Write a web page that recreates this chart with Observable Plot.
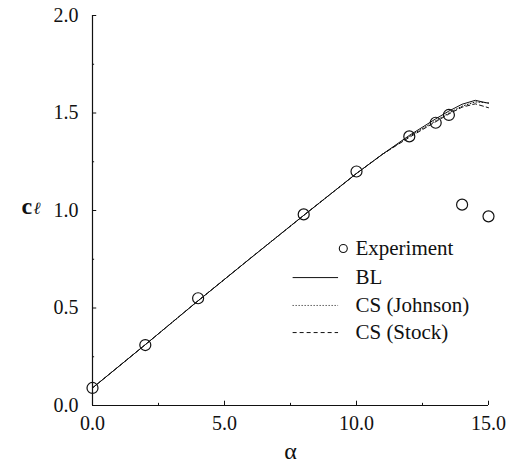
<!DOCTYPE html>
<html><head><meta charset="utf-8">
<script src="https://cdn.jsdelivr.net/npm/d3@7"></script>
<script src="https://cdn.jsdelivr.net/npm/@observablehq/plot@0.6"></script>
<style>
body{margin:0;background:#fff}
</style>
</head><body><div id="chart"></div>
<script>
// Experiment data
const expAlpha = [0, 2, 4, 8, 10, 12, 13, 13.5, 14, 15];
const expCl    = [0.09, 0.31, 0.55, 0.98, 1.20, 1.38, 1.45, 1.49, 1.03, 0.97];
// Computed curves
const curveAlpha = [0, 2, 4, 6, 8, 10, 11, 12, 13, 13.5, 14, 14.5, 15];
const clBL       = [0.09, 0.312, 0.537, 0.757, 0.975, 1.19, 1.29, 1.385, 1.47, 1.51, 1.545, 1.565, 1.55];
const clJohnson  = [0.09, 0.312, 0.537, 0.757, 0.975, 1.19, 1.29, 1.38, 1.46, 1.50, 1.535, 1.557, 1.552];
const clStock    = [0.09, 0.312, 0.537, 0.757, 0.975, 1.19, 1.29, 1.375, 1.455, 1.495, 1.53, 1.547, 1.527];
// Ticks
const xTicks = [0, 5, 10, 15];
const xMinor = [2.5, 7.5, 12.5];
const yTicks = [0, 0.5, 1.0, 1.5, 2.0];
const yMinor = [0.25, 0.75, 1.25, 1.75];
const legendLabels = ["Experiment", "BL", "CS (Johnson)", "CS (Stock)"];

const experiment = expAlpha.map((a, i) => ({alpha: a, cl: expCl[i]}));
const seriesList = [
  {name: "BL", values: clBL, dash: null},
  {name: "CS (Johnson)", values: clJohnson, dash: "1,2"},
  {name: "CS (Stock)", values: clStock, dash: "4,3"}
];
const curves = seriesList.map(s => curveAlpha.map((a, i) => ({alpha: a, cl: s.values[i]})));

const ink = "#111";
const serif = "Liberation Serif";

// legend placement in data units
const legX = 9.96, legCircleX = 9.5, legLine1 = 7.6, legLine2 = 9.32;
const legY = [0.805, 0.656, 0.513, 0.374];

const marks = [
  Plot.ruleX([0], {stroke: ink, strokeWidth: 1.2}),
  Plot.ruleY([0], {stroke: ink, strokeWidth: 1.2}),
  Plot.ruleX(xTicks, {x: d => d, y1: 0, y2: 0.022, stroke: ink}),
  Plot.ruleX(xMinor, {x: d => d, y1: 0, y2: 0.011, stroke: ink}),
  Plot.ruleY(yTicks, {y: d => d, x1: 0, x2: 0.16, stroke: ink}),
  Plot.ruleY(yMinor, {y: d => d, x1: 0, x2: 0.08, stroke: ink}),
  Plot.axisX({ticks: xTicks, tickSize: 0, tickPadding: 10, tickFormat: d3.format(".1f"),
    fontSize: 20, fontFamily: serif, fill: ink, label: null}),
  Plot.axisY({ticks: yTicks, tickSize: 0, tickPadding: 14, tickFormat: d3.format(".1f"),
    fontSize: 20, fontFamily: serif, fill: ink, label: null}),
  Plot.text(["α"], {x: 7.5, y: 0, text: d => d, dy: 46, fontSize: 24, fontFamily: serif, fill: ink, lineAnchor: "middle"}),
  Plot.text(["c"], {x: 0, y: 1.0, text: d => d, dx: -71, dy: -4, fontSize: 24, fontWeight: "bold", fontFamily: serif, fill: ink, textAnchor: "start"}),
  Plot.text(["ℓ"], {x: 0, y: 1.0, text: d => d, dx: -59, dy: -2, fontSize: 17, fontStyle: "italic", fontFamily: serif, fill: ink, textAnchor: "start"}),
  ...curves.map((c, i) => Plot.line(c, {x: "alpha", y: "cl", stroke: ink, strokeWidth: 1,
    strokeDasharray: seriesList[i].dash})),
  Plot.dot(experiment, {x: "alpha", y: "cl", r: 5.5, stroke: ink, strokeWidth: 1.2, fill: "none"}),
  Plot.dot([legendLabels[0]], {x: legCircleX, y: legY[0], r: 4, stroke: ink, strokeWidth: 1.1, fill: "none"}),
  ...seriesList.map((s, i) => Plot.ruleY([legY[i + 1]], {x1: legLine1, x2: legLine2, y: d => d,
    stroke: ink, strokeWidth: 1, strokeDasharray: s.dash})),
  Plot.text(legendLabels, {x: legX, y: (d, i) => legY[i], text: d => d, textAnchor: "start",
    fontSize: 21, fontFamily: serif, fill: ink})
];

const chart = Plot.plot({
  width: 513, height: 463,
  marginLeft: 92, marginRight: 25, marginTop: 15, marginBottom: 58,
  x: {domain: [0, 15]},
  y: {domain: [0, 2]},
  style: {background: "#fff", color: ink, fontFamily: serif},
  marks
});
document.getElementById("chart").appendChild(chart);
</script>
</body></html>
